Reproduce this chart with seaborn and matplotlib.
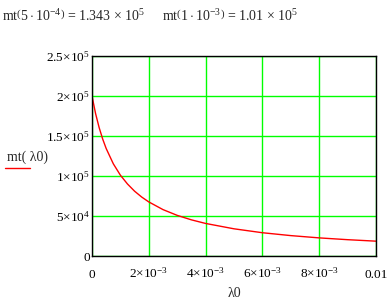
import matplotlib
matplotlib.use("Agg")
import matplotlib.pyplot as plt
import seaborn as sns
import pandas as pd

lam0 = [0, 0.000125, 0.00025, 0.000375, 0.0005, 0.00075, 0.001, 0.00125, 0.0015,
        0.00175, 0.002, 0.0025, 0.003, 0.0035, 0.004, 0.005, 0.006, 0.007,
        0.008, 0.009, 0.010]
mt = [200000, 178200, 160700, 146300, 134300, 115300, 101000, 90000, 81000,
      73700, 67600, 58000, 50800, 45200, 40700, 34000, 29100, 25500,
      22650, 20400, 18550]

xticks = [0, 0.002, 0.004, 0.006, 0.008, 0.01]
xticklabels = ["0", r"2$\times$10$^{-3}$", r"4$\times$10$^{-3}$", r"6$\times$10$^{-3}$",
               r"8$\times$10$^{-3}$", "0.01"]
yticks = [0, 50000, 100000, 150000, 200000, 250000]
yticklabels = ["0", r"5$\times$10$^{4}$", r"1$\times$10$^{5}$", r"1.5$\times$10$^{5}$",
               r"2$\times$10$^{5}$", r"2.5$\times$10$^{5}$"]

sns.set_style("white")
plt.rcParams["font.family"] = ["Liberation Serif", "DejaVu Serif"]
plt.rcParams["mathtext.fontset"] = "custom"
plt.rcParams["mathtext.rm"] = "Liberation Serif"
plt.rcParams["mathtext.it"] = "Liberation Serif"
plt.rcParams["mathtext.default"] = "rm"

fig = plt.figure(figsize=(3.92, 3.03), dpi=100)
ax = fig.add_axes([0.2347, 0.1551, 0.7245, 0.66])

df = pd.DataFrame({"lam0": lam0, "mt": mt})
sns.lineplot(data=df, x="lam0", y="mt", color="red", linewidth=1.0, ax=ax)

ax.set_xlim(0, 0.01)
ax.set_ylim(0, 250000)
ax.set_xticks(xticks)
ax.set_xticklabels(xticklabels, va="baseline")
ax.set_yticks(yticks)
ax.set_yticklabels(yticklabels)
ax.tick_params(axis="both", length=0, labelsize=9.5, colors="black")
ax.tick_params(axis="y", pad=1.5)
ax.tick_params(axis="x", pad=15.5)
ax.grid(True, color="#00ff00", linewidth=1.0)
ax.set_axisbelow(True)
for s in ax.spines.values():
    s.set_color("black")
    s.set_linewidth(1.0)
ax.set_xlabel("λ0", fontsize=10, va="baseline")
ax.xaxis.set_label_coords(0.5, -0.205)
ax.set_ylabel("")

fig.text(2/392, 1 - 21/303, r"mt$\left(5\cdot10^{-4}\right)$ = 1.343 $\times$ 10$^{5}$",
         fontsize=10, va="baseline", ha="left")
fig.text(162/392, 1 - 21/303, r"mt$\left(1\cdot10^{-3}\right)$ = 1.01 $\times$ 10$^{5}$",
         fontsize=10, va="baseline", ha="left")

fig.text(7/392, 1 - 161/303, "mt( λ0)", fontsize=10, va="baseline", ha="left")
fig.add_artist(plt.Line2D([5/392, 30/392], [1 - 168/303, 1 - 168/303],
                          color="red", linewidth=1.0, transform=fig.transFigure))

fig.savefig("out.png", dpi=100)
